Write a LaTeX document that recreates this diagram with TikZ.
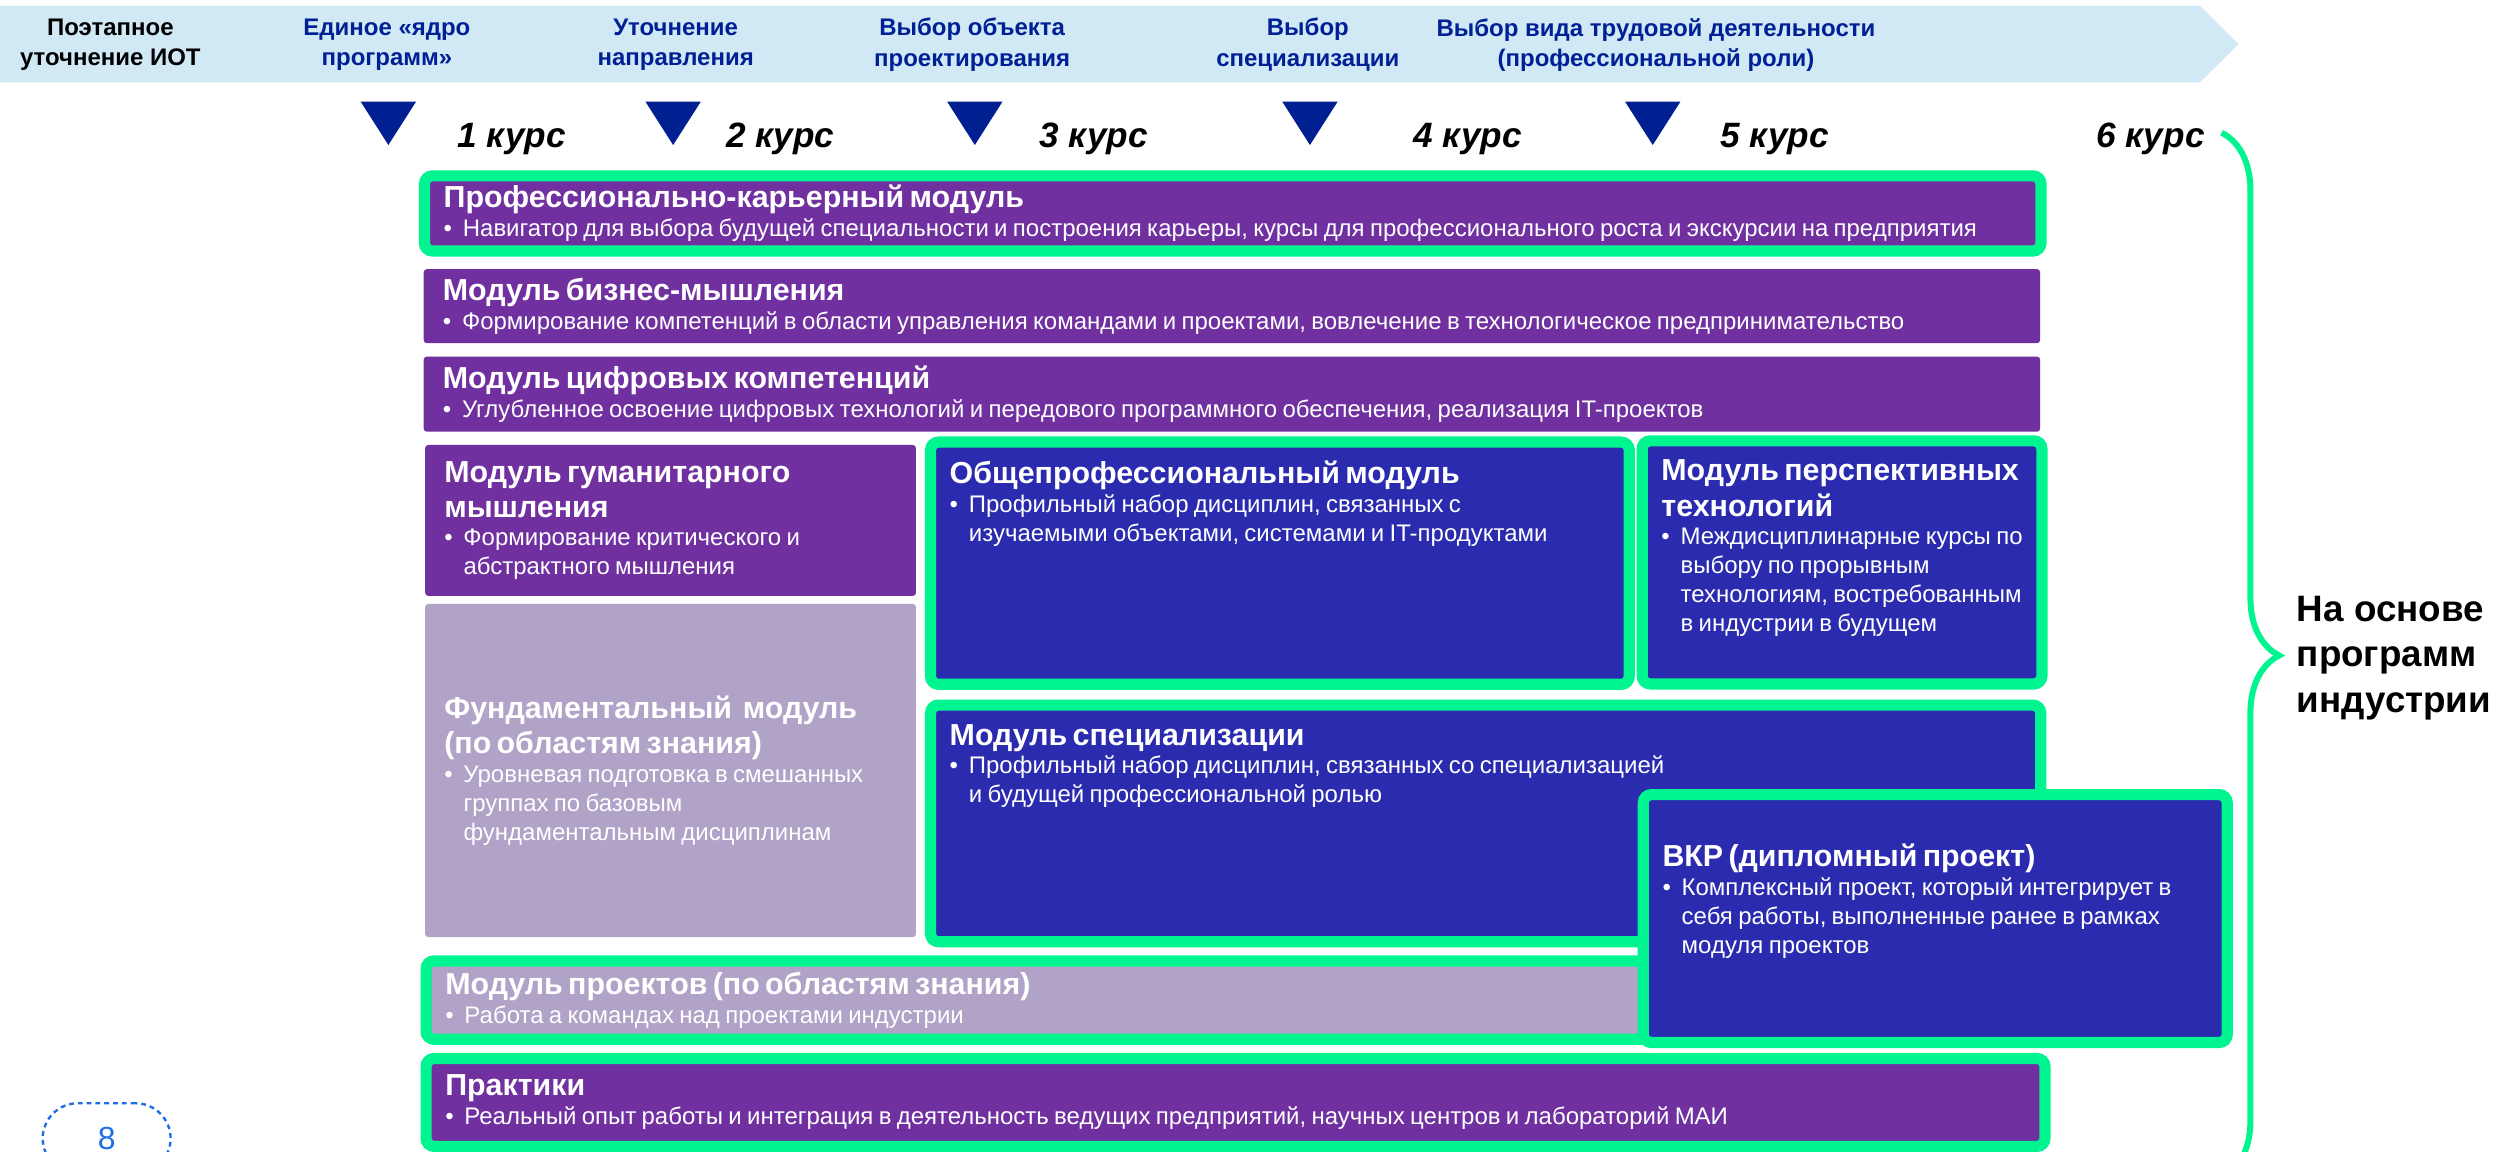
\documentclass[tikz,border=0pt]{standalone}
\usepackage{fontspec}
\setmainfont{Liberation Sans}
\usetikzlibrary{decorations.pathreplacing}
\definecolor{bandblue}{RGB}{209,232,245}
\definecolor{stageblue}{RGB}{0,32,150}
\definecolor{markblue}{RGB}{0,32,146}
\definecolor{modpurple}{RGB}{112,48,160}
\definecolor{modblue}{RGB}{43,43,176}
\definecolor{modlilac}{RGB}{177,162,199}
\definecolor{mint}{RGB}{0,245,145}
\definecolor{pageblue}{RGB}{30,110,230}
\newcommand{\modhead}[1]{{\fontsize{19}{22}\selectfont\bfseries #1\par}}
\newcommand{\modpoint}[1]{{\fontsize{15}{18}\selectfont\hangindent=12pt\hangafter=1\noindent\makebox[12pt][l]{\textbullet}#1\par}}
\newcommand{\topfill}[2]{\parbox[c][#1][t]{\linewidth}{\vspace*{12pt}#2}}
\tikzstyle{stage} = [align=center, text=stageblue, font=\fontsize{15}{19}\selectfont\bfseries]
\tikzstyle{course} = [font=\fontsize{22}{26}\selectfont\bfseries\itshape]
\tikzstyle{module} = [rectangle, rounded corners=2pt, fill=modpurple, text=white,
                      inner xsep=12pt, inner ysep=0pt, align=left]
\tikzstyle{core} = [module, fill=modblue]
\tikzstyle{basis} = [module, fill=modlilac]
\tikzstyle{industry} = [draw=mint, line width=7pt, rounded corners=5pt]
\tikzstyle{pagemark} = [draw=pageblue, line width=1.5pt, dash pattern=on 3pt off 2.5pt,
                        rounded corners=22pt, minimum width=80pt, minimum height=44pt,
                        text=pageblue, font=\fontsize{20}{20}\selectfont]
\begin{document}
\begin{tikzpicture}[x=1pt,y=-1pt]
    \useasboundingbox (0,0) rectangle (1568,720);
    % stages of the individual track
    \fill[bandblue] (0,3.75) -- (1376,3.75) -- (1400,27.7) -- (1376,51.5) -- (0,51.5) -- cycle;
    \node[stage, text=black] (iot) at (69,28) {Поэтапное\\уточнение ИОТ};
    \node[stage] (kernel) at (242,28) {Единое «ядро\\программ»};
    \node[stage] (direction) at (422.6,28) {Уточнение\\направления};
    \node[stage] (object) at (608,28) {Выбор объекта\\проектирования};
    \node[stage] (special) at (818,28) {Выбор\\специализации};
    \node[stage] (role) at (1035.7,28) {Выбор вида трудовой деятельности\\(профессиональной роли)};
    \fill[markblue] (225.6,63.6) -- (260.2,63.6) -- (242.9,90.7) -- cycle;
    \fill[markblue] (403.7,63.6) -- (438.3,63.6) -- (421,90.7) -- cycle;
    \fill[markblue] (592.4,63.6) -- (627,63.6) -- (609.7,90.7) -- cycle;
    \fill[markblue] (802,63.6) -- (836.6,63.6) -- (819.3,90.7) -- cycle;
    \fill[markblue] (1016.4,63.6) -- (1051,63.6) -- (1033.7,90.7) -- cycle;
    \node[course] (c1) at (320,87) {1 курс};
    \node[course] (c2) at (488,87) {2 курс};
    \node[course] (c3) at (684,87) {3 курс};
    \node[course] (c4) at (918,87) {4 курс};
    \node[course] (c5) at (1110,87) {5 курс};
    \node[course] (c6) at (1345,87) {6 курс};
    % modules
    \node[module, industry, minimum width=1011pt, minimum height=47pt, text width=987pt] (career) at (771,133.5)
        {\modhead{Профессионально-карьерный модуль}\modpoint{Навигатор для выбора будущей специальности и построения карьеры, курсы для профессионального роста и экскурсии на предприятия}};
    \node[module, minimum width=1011pt, minimum height=46.3pt, text width=987pt] (business) at (770.5,191.5)
        {\modhead{Модуль бизнес-мышления}\modpoint{Формирование компетенций в области управления командами и проектами, вовлечение в технологическое предпринимательство}};
    \node[module, minimum width=1011pt, minimum height=47pt, text width=987pt] (digital) at (770.5,246.5)
        {\modhead{Модуль цифровых компетенций}\modpoint{Углубленное освоение цифровых технологий и передового программного обеспечения, реализация IT-проектов}};
    \node[module, minimum width=307pt, minimum height=94.4pt, text width=283pt] (humanities) at (419.4,325.5)
        {\modhead{Модуль гуманитарного\\мышления}\modpoint{Формирование критического и\newline абстрактного мышления}};
    \node[basis, minimum width=307pt, minimum height=208.3pt, text width=283pt] (fundamental) at (419.4,481.9)
        {\modhead{Фундаментальный~ модуль\\(по областям знания)}\modpoint{Уровневая подготовка в смешанных\newline группах по базовым\newline фундаментальным дисциплинам}};
    \node[core, industry, minimum width=437pt, minimum height=151.5pt, text width=413pt] (general) at (800.5,352.25)
        {\topfill{151.5pt}{\modhead{Общепрофессиональный модуль}\modpoint{Профильный набор дисциплин, связанных с\newline изучаемыми объектами, системами и IT-продуктами}}};
    \node[core, industry, minimum width=248.6pt, minimum height=152pt, text width=226pt] (prospect) at (1152.1,351.75)
        {\topfill{152pt}{\modhead{Модуль перспективных\\технологий}\modpoint{Междисциплинарные курсы по\newline выбору по прорывным\newline технологиям, востребованным\newline в индустрии в будущем}}};
    \node[core, industry, minimum width=694.4pt, minimum height=148pt, text width=670.4pt] (specialty) at (929.2,515)
        {\topfill{148pt}{\modhead{Модуль специализации}\modpoint{Профильный набор дисциплин, связанных со специализацией\newline и будущей профессиональной ролью}}};
    \node[basis, industry, minimum width=833.5pt, minimum height=49pt, text width=809.5pt] (projects) at (683.25,625.5)
        {\modhead{Модуль проектов (по областям знания)}\modpoint{Работа а командах над проектами индустрии}};
    \node[core, industry, minimum width=365.2pt, minimum height=155pt, text width=341.2pt] (thesis) at (1210.4,574.5)
        {\topfill{155pt}{\vspace*{19pt}\modhead{ВКР (дипломный проект)}\modpoint{Комплексный проект, который интегрирует в\newline себя работы, выполненные ранее в рамках\newline модуля проектов}}};
    \node[module, industry, minimum width=1012.5pt, minimum height=55pt, text width=988.5pt] (practice) at (772.75,689.5)
        {\modhead{Практики}\modpoint{Реальный опыт работы и интеграция в деятельность ведущих предприятий, научных центров и лабораторий МАИ}};
    % industry programmes
    \draw[mint, line width=3.75pt, decorate, decoration={brace, amplitude=36pt}] (1389.5,83) -- (1389.5,737);
    \node[anchor=west, align=left, font=\fontsize{23}{28.5}\selectfont\bfseries] (source) at (1433,411.5) {На основе\\программ\\индустрии};
    \node[pagemark] (page) at (66.7,712) {8};
\end{tikzpicture}
\end{document}
